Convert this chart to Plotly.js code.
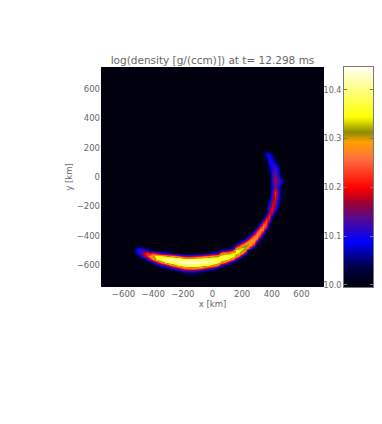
<!DOCTYPE html>
<html>
<head>
<meta charset="utf-8">
<script src="https://cdn.plot.ly/plotly-3.0.1.min.js"></script>
<style>html, body { margin: 0; background: #fff; }</style>
</head>
<body>
<div id="chart" style="width:382px;height:424px"></div>
<script>
// log density on a 20 km grid, everything else is floor
var floorValue = 10.0;
var topValue = 10.447;
var gridX = [-540, 480];
var gridY = [-660, 180];

// lower band, one entry per column: [x, lowest y, values going up in y]
var lowerBand = [
    [-520, -520, [10.03, 10.07, 10.03]],
    [-500, -540, [10.02, 10.10, 10.12, 10.08]],
    [-480, -540, [10.09, 10.14, 10.12, 10.09]],
    [-460, -560, [10.03, 10.16, 10.18, 10.12, 10.04]],
    [-440, -560, [10.09, 10.21, 10.22, 10.11]],
    [-420, -580, [10.03, 10.19, 10.28, 10.19, 10.04]],
    [-400, -580, [10.09, 10.27, 10.31, 10.22, 10.03]],
    [-380, -600, [10.03, 10.17, 10.33, 10.36, 10.18]],
    [-360, -600, [10.08, 10.23, 10.37, 10.35, 10.14]],
    [-340, -620, [10.03, 10.12, 10.30, 10.40, 10.34, 10.11]],
    [-320, -620, [10.03, 10.15, 10.34, 10.41, 10.33, 10.10]],
    [-300, -620, [10.05, 10.20, 10.38, 10.41, 10.31, 10.08]],
    [-280, -620, [10.09, 10.26, 10.39, 10.42, 10.30, 10.06]],
    [-260, -620, [10.12, 10.30, 10.40, 10.42, 10.28, 10.04]],
    [-240, -640, [10.02, 10.16, 10.33, 10.41, 10.42, 10.26, 10.02]],
    [-220, -640, [10.05, 10.20, 10.36, 10.42, 10.40, 10.22]],
    [-200, -640, [10.08, 10.24, 10.38, 10.42, 10.39, 10.19]],
    [-180, -640, [10.10, 10.26, 10.39, 10.43, 10.39, 10.17]],
    [-160, -640, [10.11, 10.27, 10.39, 10.43, 10.39, 10.17]],
    [-140, -640, [10.11, 10.28, 10.39, 10.43, 10.39, 10.18]],
    [-120, -640, [10.10, 10.27, 10.39, 10.43, 10.39, 10.19]],
    [-100, -640, [10.08, 10.26, 10.38, 10.43, 10.39, 10.21]],
    [-80, -640, [10.06, 10.24, 10.38, 10.42, 10.39, 10.22]],
    [-60, -640, [10.03, 10.21, 10.37, 10.42, 10.39, 10.24, 10.03]],
    [-40, -620, [10.18, 10.35, 10.41, 10.40, 10.26, 10.05]],
    [-20, -620, [10.15, 10.33, 10.40, 10.40, 10.28, 10.07]],
    [0, -620, [10.12, 10.31, 10.39, 10.39, 10.30, 10.09]],
    [20, -620, [10.08, 10.28, 10.38, 10.39, 10.31, 10.11]],
    [40, -620, [10.04, 10.24, 10.37, 10.38, 10.32, 10.13, 10.02]],
    [60, -600, [10.12, 10.31, 10.38, 10.36, 10.27, 10.08]],
    [80, -600, [10.06, 10.27, 10.37, 10.37, 10.30, 10.10]],
    [100, -600, [10.03, 10.20, 10.36, 10.38, 10.30, 10.12, 10.02]],
    [120, -580, [10.12, 10.31, 10.38, 10.32, 10.16, 10.05]],
    [140, -580, [10.05, 10.25, 10.36, 10.34, 10.21, 10.09]],
    [160, -560, [10.12, 10.30, 10.35, 10.35, 10.28, 10.12]],
    [180, -560, [10.03, 10.22, 10.33, 10.35, 10.32, 10.20, 10.05]],
    [200, -540, [10.08, 10.28, 10.33, 10.34, 10.28, 10.14, 10.02]],
    [220, -520, [10.15, 10.30, 10.32, 10.32, 10.22, 10.07]],
    [240, -500, [10.08, 10.26, 10.31, 10.30, 10.18, 10.05]],
    [260, -480, [10.12, 10.27, 10.29, 10.27, 10.17, 10.04]],
    [280, -480, [10.03, 10.18, 10.28, 10.29, 10.26, 10.16, 10.04]],
    [300, -440, [10.08, 10.24, 10.28, 10.27, 10.20, 10.05]],
    [320, -420, [10.06, 10.20, 10.26, 10.27, 10.22, 10.11]],
    [340, -400, [10.03, 10.14, 10.25, 10.26, 10.24, 10.16, 10.04]],
    [360, -360, [10.07, 10.20, 10.24, 10.24, 10.20, 10.08]],
    [380, -320, [10.05, 10.17, 10.21, 10.22, 10.13]]
];

// right arm, one entry per row: [y, lowest x, values going up in x]
var rightArm = [
    [-280, 400, [10.03]],
    [-260, 400, [10.12]],
    [-240, 380, [10.17, 10.19, 10.06]],
    [-220, 360, [10.03, 10.16, 10.20, 10.12, 10.02]],
    [-200, 380, [10.11, 10.19, 10.16, 10.05]],
    [-180, 380, [10.08, 10.18, 10.18, 10.08]],
    [-160, 380, [10.05, 10.16, 10.19, 10.10, 10.02]],
    [-140, 380, [10.03, 10.13, 10.20, 10.11, 10.03]],
    [-120, 400, [10.12, 10.21, 10.12, 10.03]],
    [-100, 400, [10.11, 10.22, 10.12, 10.02]],
    [-80, 400, [10.09, 10.19, 10.12, 10.02]],
    [-60, 400, [10.09, 10.15, 10.11, 10.02]],
    [-40, 400, [10.10, 10.17, 10.13, 10.09]],
    [-20, 400, [10.11, 10.18, 10.14, 10.09, 10.05]],
    [0, 400, [10.11, 10.17, 10.12, 10.03]],
    [20, 400, [10.11, 10.14, 10.10]],
    [40, 380, [10.03, 10.11, 10.14, 10.09]],
    [60, 380, [10.05, 10.10, 10.13, 10.07]],
    [80, 380, [10.07, 10.11, 10.11, 10.05]],
    [100, 380, [10.10, 10.10, 10.06]],
    [120, 360, [10.03, 10.10, 10.09, 10.03]],
    [140, 360, [10.07, 10.10, 10.05]],
    [160, 340, [10.02, 10.08, 10.07, 10.02]]
];

// colour bar, read from bottom to top
var barStops = [10.0, 10.04, 10.09, 10.14, 10.17, 10.2, 10.26, 10.294, 10.314, 10.345, 10.447];
var barColors = ['#00000f', '#00004a', '#0000ff', '#5a0a8c', '#a00030', '#ff0000', '#ff7040', '#ffa000', '#8c8c00', '#ffff00', '#fffff0'];
var barLevels = [10.0, 10.447];
var barTicks = [10.0, 10.1, 10.2, 10.3, 10.4];
var barLabels = ['10.0', '10.1', '10.2', '10.3', '10.4'];

var xValues = [], yValues = [], density = [];
for (var i = gridY[0]; i <= gridY[1]; i += 20) yValues.push(i);
for (var j = gridX[0]; j <= gridX[1]; j += 20) xValues.push(j);
yValues.forEach(function () {
    density.push(xValues.map(function () { return floorValue; }));
});
function setCell(x, y, value) {
    var r = yValues.indexOf(y), c = xValues.indexOf(x);
    density[r][c] = Math.max(density[r][c], value);
}
lowerBand.forEach(function (col) {
    col[2].forEach(function (v, k) { setCell(col[0], col[1] + k * 20, v); });
});
rightArm.forEach(function (row) {
    row[2].forEach(function (v, k) { setCell(row[1] + k * 20, row[0], v); });
});

var colorscale = barStops.map(function (v, k) {
    return [(v - floorValue) / (topValue - floorValue), barColors[k]];
});

var traces = [{
    type: 'heatmap',
    x: xValues,
    y: yValues,
    z: density,
    zmin: floorValue,
    zmax: topValue,
    zsmooth: 'best',
    colorscale: colorscale,
    showscale: false,
    hoverinfo: 'skip'
}, {
    type: 'heatmap',
    x: [0, 1],
    y: barLevels,
    z: barLevels.map(function (v) { return [v, v]; }),
    zmin: floorValue,
    zmax: topValue,
    zsmooth: 'best',
    colorscale: colorscale,
    showscale: false,
    hoverinfo: 'skip',
    xaxis: 'x2',
    yaxis: 'y2'
}];

var textColor = '#666';
var layout = {
    width: 382,
    height: 424,
    margin: {l: 0, r: 0, t: 0, b: 0},
    paper_bgcolor: '#fff',
    plot_bgcolor: '#00000f',
    showlegend: false,
    font: {family: 'DejaVu Sans', size: 9, color: textColor},
    title: {
        text: 'log(density [g/(ccm)]) at t= 12.298 ms',
        font: {size: 10.5, color: textColor},
        x: 212.5 / 382,
        xanchor: 'center',
        y: 1 - 60 / 424,
        yanchor: 'middle'
    },
    xaxis: {
        domain: [101 / 382, 324 / 382],
        range: [-752, 752],
        tickvals: [-600, -400, -200, 0, 200, 400, 600],
        ticks: '',
        showgrid: false,
        zeroline: false,
        tickfont: {size: 8.5},
        title: {text: 'x [km]', font: {size: 8.5}, standoff: 3}
    },
    yaxis: {
        domain: [1 - 287 / 424, 1 - 67 / 424],
        range: [-748, 748],
        tickvals: [-600, -400, -200, 0, 200, 400, 600],
        ticks: '',
        showgrid: false,
        zeroline: false,
        tickfont: {size: 8.5},
        title: {text: 'y [km]', font: {size: 8.5}, standoff: 2}
    },
    xaxis2: {
        domain: [344 / 382, 373 / 382],
        range: [0, 1],
        anchor: 'y2',
        showticklabels: false,
        ticks: '',
        showgrid: false,
        zeroline: false,
        showline: true,
        mirror: true,
        linecolor: '#777',
        linewidth: 1
    },
    yaxis2: {
        domain: [1 - 287 / 424, 1 - 67 / 424],
        range: [9.9955, 10.447],
        anchor: 'x2',
        side: 'left',
        tickvals: barTicks,
        ticktext: barLabels,
        ticks: 'inside',
        ticklen: 3,
        tickcolor: '#777',
        showgrid: false,
        zeroline: false,
        showline: true,
        mirror: 'allticks',
        linecolor: '#777',
        tickfont: {size: 8}
    }
};

Plotly.newPlot('chart', traces, layout, {displayModeBar: false});
</script>
</body>
</html>
